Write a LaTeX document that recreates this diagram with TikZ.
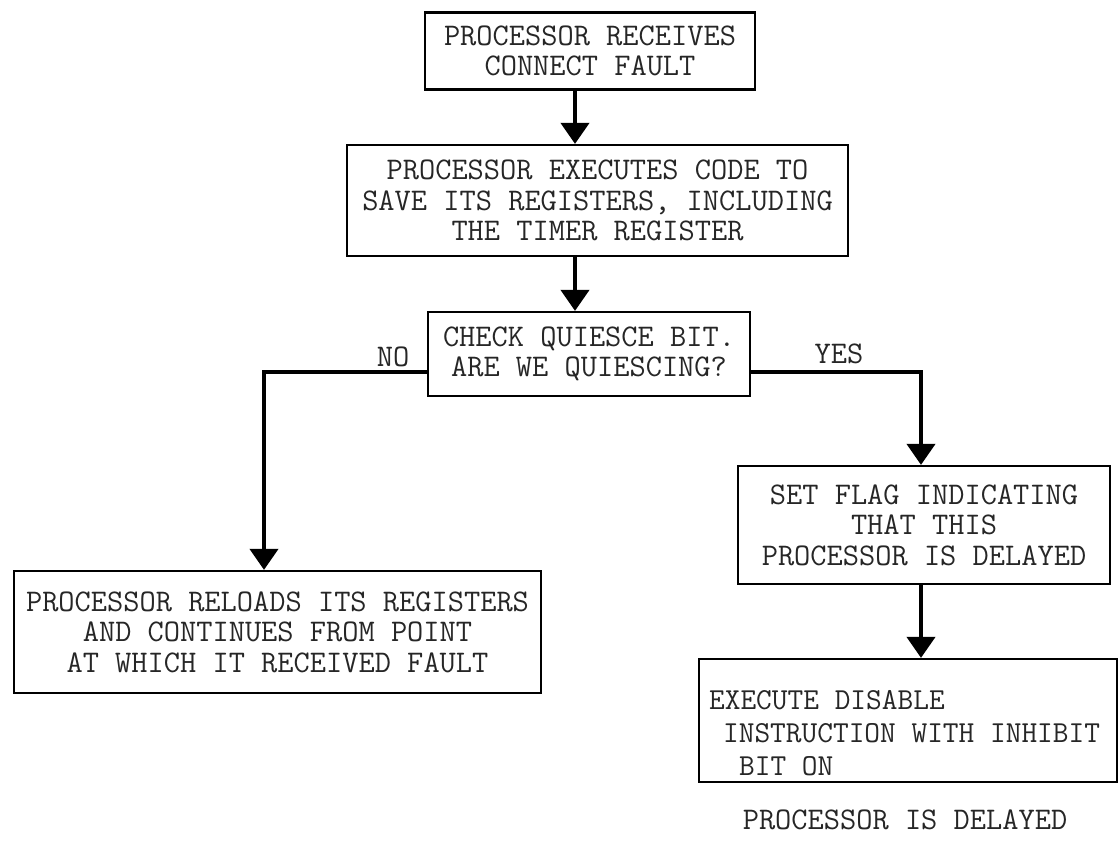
\documentclass[tikz,border=0pt]{standalone}
\usetikzlibrary{arrows.meta}
\tikzset{every picture/.style={line width=2.2pt}}

\begin{document}
\begin{tikzpicture}[x=1pt,y=1pt,yscale=-1,xscale=1,
  box/.style={draw, rectangle, inner sep=0pt, align=center, text=black!85,
    font=\ttfamily\fontsize{31.5}{30.5}\selectfont},
  flow/.style={line width=4pt, -{Triangle[width=28pt,length=21pt]}},
  lbl/.style={inner sep=0pt, text=black!85, font=\ttfamily\fontsize{31.5}{33}\selectfont}]
\useasboundingbox (0,0) rectangle (1120,848);

% Boxes
\node [box, minimum width=330, minimum height=77] (recv) at (590,51) {PROCESSOR RECEIVES\\CONNECT FAULT};
\node [box, minimum width=501, minimum height=111] (save) at (597.5,200.5) {PROCESSOR EXECUTES CODE TO\\SAVE ITS REGISTERS, INCLUDING\\THE TIMER REGISTER};
\node [box, minimum width=322, minimum height=84] (quiesce) at (589,354) {CHECK QUIESCE BIT.\\ARE WE QUIESCING?};
\node [box, minimum width=527, minimum height=122] (reload) at (277.5,632) {PROCESSOR RELOADS ITS REGISTERS\\AND CONTINUES FROM POINT\\AT WHICH IT RECEIVED FAULT};
\node [box, minimum width=372, minimum height=118] (flag) at (924,525) {SET FLAG INDICATING\\THAT THIS\\PROCESSOR IS DELAYED};
\node [box, minimum width=418, minimum height=123] (disable) at (908,720.5) {};
% Text Node
\node [lbl, align=left, anchor=north west, font=\ttfamily\fontsize{30.5}{33}\selectfont] (disabletext) at (708,689) {EXECUTE DISABLE\\\hspace*{14pt}INSTRUCTION WITH INHIBIT\\\hspace*{30pt}BIT ON};
\node [lbl] (delayed) at (905,820) {PROCESSOR IS DELAYED};

% Connectors
\coordinate (spine) at (575,0);
\coordinate (branch) at (0,372);
\coordinate (nox) at (264,0);
\coordinate (yesx) at (921,0);
\draw [flow] (recv.south -| spine) -- (save.north -| spine);
\draw [flow] (save.south -| spine) -- (quiesce.north -| spine);
\draw [flow] (quiesce.west |- branch) -| (reload.north -| nox);
\draw [flow] (quiesce.east |- branch) -| (flag.north -| yesx);
\draw [flow] (flag.south -| yesx) -- (disable.north -| yesx);

% Labels
\node [lbl] (no) at (393,357) {NO};
\node [lbl] (yes) at (839,354) {YES};
\end{tikzpicture}
\end{document}
